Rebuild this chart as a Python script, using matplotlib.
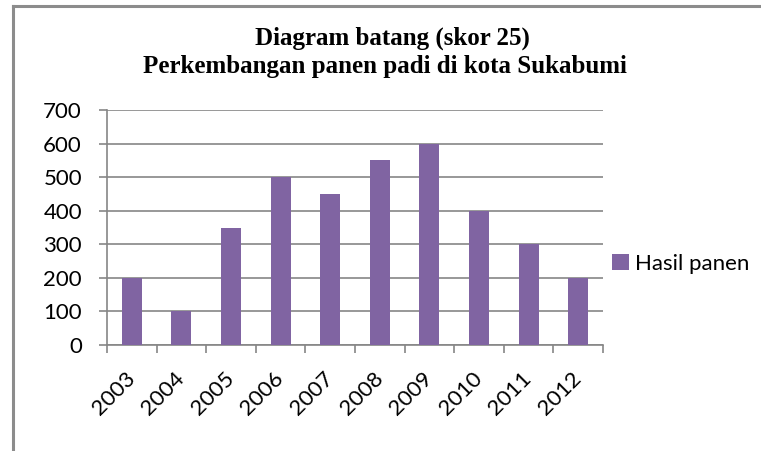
import numpy as np
import matplotlib.pyplot as plt
from matplotlib.lines import Line2D
from matplotlib.patches import Patch

years = ['2003', '2004', '2005', '2006', '2007', '2008', '2009', '2010', '2011', '2012']
hasil_panen = [200, 100, 350, 500, 450, 550, 600, 400, 300, 200]
y_ticks = [0, 100, 200, 300, 400, 500, 600, 700]

bar_color = '#8064A2'
grid_color = '#868686'
label_font = 'Lato'

fig = plt.figure(figsize=(7.61, 4.51), dpi=100)
ax = fig.add_axes([107 / 761, 106 / 451, 496 / 761, 235 / 451])

x = np.arange(len(years))
ax.bar(x, hasil_panen, width=0.4, color=bar_color, zorder=3, label='Hasil panen')

ax.set_xlim(-0.5, len(years) - 0.5)
ax.set_ylim(0, 700)
ax.set_yticks(y_ticks)
ax.set_yticklabels([str(v) for v in y_ticks], fontsize=16, family=label_font)
ax.yaxis.grid(True, color=grid_color, linewidth=1.2, zorder=0)

# category labels in the middle, tick marks on the boundaries
ax.set_xticks(x)
ax.set_xticklabels(years, rotation=45, ha='right', va='center', rotation_mode='anchor',
                   fontsize=16, family=label_font)
ax.set_xticks(np.arange(-0.5, len(years)), minor=True)
ax.tick_params(axis='x', which='major', length=0, pad=22)
ax.tick_params(axis='x', which='minor', length=6, width=1.2, color=grid_color)
ax.tick_params(axis='y', length=6, width=1.2, color=grid_color, pad=12)

for side in ['top', 'right']:
    ax.spines[side].set_visible(False)
for side in ['left', 'bottom']:
    ax.spines[side].set_color(grid_color)
    ax.spines[side].set_linewidth(1.2)

fig.text(392 / 761, 1 - 38 / 451, 'Diagram batang (skor 25)', ha='center', va='center',
         fontsize=18, fontweight='bold', family='Liberation Serif')
fig.text(385 / 761, 1 - 67 / 451, 'Perkembangan panen padi di kota Sukabumi', ha='center',
         va='center', fontsize=18, fontweight='bold', family='Liberation Serif')

handle = Patch(facecolor=bar_color, edgecolor='none')
fig.legend([handle], ['Hasil panen'], loc='center left', bbox_to_anchor=(612 / 761, 1 - 264 / 451),
           frameon=False, handlelength=0.75, handleheight=0.75, handletextpad=0.3,
           borderpad=0, borderaxespad=0, prop={'family': label_font, 'size': 16})

# chart frame (only top and left edges visible in the crop)
fig.add_artist(Line2D([13 / 761, 13 / 761], [0, 1 - 6 / 451], color='#8c8c8c', linewidth=2.2))
fig.add_artist(Line2D([13 / 761, 1], [1 - 6 / 451, 1 - 6 / 451], color='#8c8c8c', linewidth=2.2))

fig.savefig('out.png', dpi=100)
